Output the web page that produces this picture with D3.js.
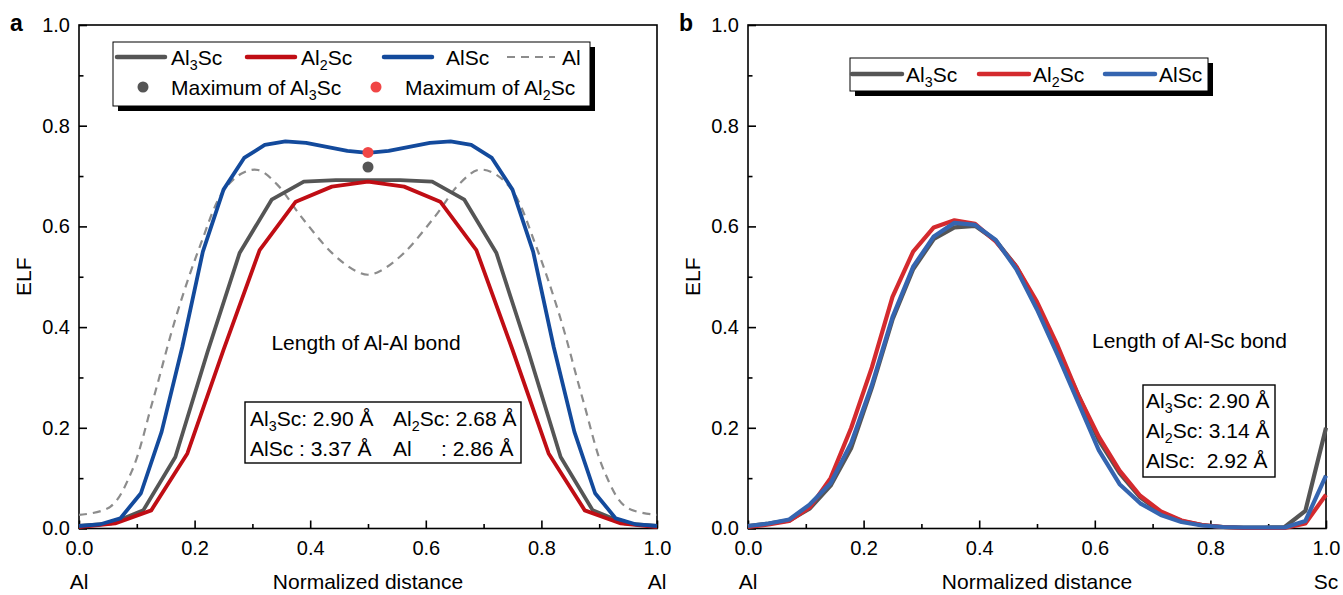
<!DOCTYPE html>
<html><head><meta charset="utf-8">
<script src="https://cdn.jsdelivr.net/npm/d3@7"></script>
<style>
html,body{margin:0;padding:0;background:#fff;}
text{font-family:"Liberation Sans",Arial,sans-serif;fill:#000;white-space:pre;}
</style></head>
<body>
<svg id="chart" width="1343" height="595"></svg>
<script>
// ---------- DATA ----------
const xTicks = [0.0, 0.2, 0.4, 0.6, 0.8, 1.0];
const yTicks = [0.0, 0.2, 0.4, 0.6, 0.8, 1.0];

// Panel a (Al-Al bond)
const a_Al3Sc_x = [0,0.0556,0.1111,0.1667,0.2222,0.2778,0.3333,0.3889,0.4444,0.5,0.5556,0.6111,0.6667,0.7222,0.7778,0.8333,0.8889,0.9444,1];
const a_Al3Sc_y = [0.005,0.01,0.036,0.142,0.35,0.547,0.653,0.689,0.692,0.692,0.692,0.689,0.653,0.547,0.35,0.142,0.036,0.01,0.005];
const a_Al2Sc_x = [0,0.0625,0.125,0.1875,0.25,0.3125,0.375,0.4375,0.5,0.5625,0.625,0.6875,0.75,0.8125,0.875,0.9375,1];
const a_Al2Sc_y = [0.003,0.01,0.036,0.149,0.355,0.553,0.649,0.679,0.689,0.679,0.649,0.553,0.355,0.149,0.036,0.01,0.003];
const a_AlSc_x = [0,0.0357,0.0714,0.1071,0.1429,0.1786,0.2143,0.25,0.2857,0.3214,0.3571,0.3929,0.4286,0.4643,0.5,0.5357,0.5714,0.6071,0.6429,0.6786,0.7143,0.75,0.7857,0.8214,0.8571,0.8929,0.9286,0.9643,1];
const a_AlSc_y = [0.005,0.008,0.02,0.07,0.192,0.36,0.55,0.673,0.736,0.762,0.769,0.766,0.758,0.75,0.746,0.75,0.758,0.766,0.769,0.762,0.736,0.673,0.55,0.36,0.192,0.07,0.02,0.008,0.005];
const a_Al_x = [0,0.054,0.091,0.128,0.168,0.209,0.249,0.283,0.31,0.343,0.384,0.438,0.478,0.5,0.522,0.562,0.616,0.657,0.69,0.717,0.751,0.791,0.832,0.872,0.909,0.946,1];
const a_Al_y = [0.027,0.043,0.113,0.255,0.421,0.56,0.669,0.706,0.712,0.683,0.62,0.547,0.512,0.504,0.512,0.547,0.62,0.683,0.712,0.706,0.669,0.56,0.421,0.255,0.113,0.043,0.027];
const a_maxAl3Sc = [0.5, 0.718];
const a_maxAl2Sc = [0.5, 0.747];

// Panel b (Al-Sc bond)
const b_x = [0,0.0357,0.0714,0.1071,0.1429,0.1786,0.2143,0.25,0.2857,0.3214,0.3571,0.3929,0.4286,0.4643,0.5,0.5357,0.5714,0.6071,0.6429,0.6786,0.7143,0.75,0.7857,0.8214,0.8571,0.8929,0.9286,0.9643,1];
const b_Al3Sc_y = [0.005,0.01,0.016,0.04,0.085,0.16,0.28,0.415,0.515,0.575,0.598,0.601,0.572,0.52,0.445,0.355,0.265,0.175,0.11,0.062,0.032,0.015,0.007,0.003,0.002,0.002,0.003,0.035,0.2];
const b_Al2Sc_y = [0.003,0.008,0.015,0.042,0.1,0.2,0.32,0.46,0.55,0.598,0.612,0.605,0.57,0.52,0.45,0.363,0.265,0.182,0.115,0.065,0.034,0.016,0.007,0.003,0.001,0.001,0.001,0.01,0.067];
const b_AlSc_y = [0.005,0.01,0.018,0.048,0.09,0.17,0.285,0.42,0.52,0.58,0.607,0.603,0.573,0.515,0.435,0.345,0.25,0.155,0.088,0.05,0.027,0.013,0.006,0.003,0.002,0.002,0.002,0.015,0.105];

// ---------- DRAWING ----------
const svg = d3.select("#chart");
const FONT = 21, TFONT = 20;
const yTop = 25, yBot = 528.5;

function richText(g, x, y, parts, size) {
  const t = g.append("text").attr("x", x).attr("y", y).attr("font-size", size);
  let shifted = false;
  parts.forEach(p => {
    const [s, sub] = typeof p === "string" ? [p, false] : p;
    const ts = t.append("tspan").text(s);
    if (sub && !shifted) { ts.attr("dy", 5).attr("font-size", size * 0.68); shifted = true; }
    else if (!sub && shifted) { ts.attr("dy", -5); shifted = false; }
  });
  return t;
}

function panel(opt) {
  const g = svg.append("g");
  const x = d3.scaleLinear().domain([0, 1]).range([opt.x0, opt.x1]);
  const y = d3.scaleLinear().domain([0, 1]).range([yBot, yTop]);

  g.append("rect").attr("x", opt.x0).attr("y", yTop).attr("width", opt.x1 - opt.x0).attr("height", yBot - yTop)
    .attr("fill", "none").attr("stroke", "#000").attr("stroke-width", 1.6);

  const xAx = g.append("g").attr("transform", `translate(0,${yBot})`)
    .call(d3.axisBottom(x).tickValues(xTicks).tickSize(-8).tickPadding(12).tickFormat(d3.format(".1f")));
  const xMin = g.append("g").attr("transform", `translate(0,${yBot})`)
    .call(d3.axisBottom(x).tickValues([0.1,0.3,0.5,0.7,0.9]).tickSize(-4.5).tickFormat(""));
  const yAx = g.append("g").attr("transform", `translate(${opt.x0},0)`)
    .call(d3.axisLeft(y).tickValues(yTicks).tickSize(-8).tickPadding(9).tickFormat(d3.format(".1f")));
  const yMin = g.append("g").attr("transform", `translate(${opt.x0},0)`)
    .call(d3.axisLeft(y).tickValues([0.1,0.3,0.5,0.7,0.9]).tickSize(-4.5).tickFormat(""));
  [xAx, xMin, yAx, yMin].forEach(a => {
    a.select(".domain").remove();
    a.selectAll("line").attr("stroke", "#000").attr("stroke-width", 1.6);
    a.selectAll("text").attr("font-size", TFONT).attr("font-family", '"Liberation Sans",Arial,sans-serif').attr("fill", "#000");
  });

  g.append("text").attr("x", opt.x0 - 69).attr("y", 31).attr("font-size", 23).attr("font-weight", "bold").text(opt.letter);
  g.append("text").attr("transform", `translate(${opt.x0 - 48},${(yTop + yBot) / 2}) rotate(-90)`)
    .attr("text-anchor", "middle").attr("font-size", FONT).text("ELF");
  g.append("text").attr("x", (opt.x0 + opt.x1) / 2).attr("y", 589).attr("text-anchor", "middle").attr("font-size", FONT).text("Normalized distance");
  g.append("text").attr("x", x(0)).attr("y", 589).attr("text-anchor", "middle").attr("font-size", FONT).text("Al");
  g.append("text").attr("x", x(1)).attr("y", 589).attr("text-anchor", "middle").attr("font-size", FONT).text(opt.rightEnd);

  opt.series.forEach(s => {
    const line = d3.line().x(d => x(d[0])).y(d => y(d[1])).curve(s.smooth ? d3.curveCatmullRom : d3.curveLinear);
    g.append("path").datum(s.xs.map((v, i) => [v, s.ys[i]]))
      .attr("d", line).attr("fill", "none").attr("stroke", s.color).attr("stroke-width", s.w)
      .attr("stroke-dasharray", s.dash || null).attr("stroke-linejoin", "round");
  });
  (opt.dots || []).forEach(d => {
    g.append("circle").attr("cx", x(d.p[0])).attr("cy", y(d.p[1])).attr("r", 5.5).attr("fill", d.color);
  });
  return { g, x, y };
}

const A = panel({
  x0: 79, x1: 657, letter: "a", rightEnd: "Al",
  series: [
    { xs: a_Al_x, ys: a_Al_y, color: "#8c8c8c", w: 2.2, dash: "8,6", smooth: true },
    { xs: a_Al3Sc_x, ys: a_Al3Sc_y, color: "#555555", w: 3.8 },
    { xs: a_Al2Sc_x, ys: a_Al2Sc_y, color: "#c00d14", w: 3.8 },
    { xs: a_AlSc_x, ys: a_AlSc_y, color: "#134a9c", w: 3.8 }
  ],
  dots: [{ p: a_maxAl3Sc, color: "#555555" }, { p: a_maxAl2Sc, color: "#f04646" }]
});

const B = panel({
  x0: 748, x1: 1326, letter: "b", rightEnd: "Sc",
  series: [
    { xs: b_x, ys: b_Al3Sc_y, color: "#555555", w: 4.2 },
    { xs: b_x, ys: b_Al2Sc_y, color: "#d42a2e", w: 4.2 },
    { xs: b_x, ys: b_AlSc_y, color: "#3565b0", w: 4.2 }
  ]
});

function shadowBox(g, x, y, w, h) {
  g.append("rect").attr("x", x + 5).attr("y", y + 5).attr("width", w).attr("height", h).attr("fill", "#000");
  g.append("rect").attr("x", x).attr("y", y).attr("width", w).attr("height", h).attr("fill", "#fff").attr("stroke", "#000").attr("stroke-width", 1);
}
function plainBox(g, x, y, w, h) {
  g.append("rect").attr("x", x).attr("y", y).attr("width", w).attr("height", h).attr("fill", "#fff").attr("stroke", "#000").attr("stroke-width", 1.4);
}
function legLine(g, x1, x2, y, color, w, dash) {
  g.append("line").attr("x1", x1).attr("x2", x2).attr("y1", y).attr("y2", y)
    .attr("stroke", color).attr("stroke-width", w).attr("stroke-linecap", dash ? "butt" : "round").attr("stroke-dasharray", dash || null);
}

{
  const g = A.g;
  shadowBox(g, 113, 42, 477, 64);
  const r1 = 57, r2 = 87;
  legLine(g, 117, 165, r1, "#555555", 4.5);
  richText(g, 171, r1 + 7.5, ["Al", ["3", 1], "Sc"], FONT);
  legLine(g, 247, 295, r1, "#c00d14", 4.5);
  richText(g, 301, r1 + 7.5, ["Al", ["2", 1], "Sc"], FONT);
  legLine(g, 384, 432, r1, "#134a9c", 4.5);
  richText(g, 446, r1 + 7.5, ["AlSc"], FONT);
  legLine(g, 507, 555, r1, "#8c8c8c", 2.2, "8,6");
  richText(g, 562, r1 + 7.5, ["Al"], FONT);
  g.append("circle").attr("cx", 143).attr("cy", r2).attr("r", 5.5).attr("fill", "#555555");
  richText(g, 171, r2 + 7.5, ["Maximum of Al", ["3", 1], "Sc"], FONT);
  g.append("circle").attr("cx", 376).attr("cy", r2).attr("r", 5.5).attr("fill", "#f04646");
  richText(g, 405, r2 + 7.5, ["Maximum of Al", ["2", 1], "Sc"], FONT);

  g.append("text").attr("x", 366).attr("y", 350).attr("text-anchor", "middle").attr("font-size", FONT).text("Length of Al-Al bond");
  plainBox(g, 245, 402, 276, 61);
  richText(g, 250, 426, ["Al", ["3", 1], "Sc: 2.90 Å"], FONT);
  richText(g, 393, 426, ["Al", ["2", 1], "Sc: 2.68 Å"], FONT);
  richText(g, 250, 456, ["AlSc : 3.37 Å"], FONT);
  richText(g, 393, 456, ["Al"], FONT);
  richText(g, 441, 456, [": 2.86 Å"], FONT);
}

{
  const g = B.g;
  shadowBox(g, 850, 58, 358, 33);
  const r = 74;
  legLine(g, 852, 902, r, "#555555", 4.5);
  richText(g, 906, r + 7.5, ["Al", ["3", 1], "Sc"], FONT);
  legLine(g, 979, 1029, r, "#d42a2e", 4.5);
  richText(g, 1033, r + 7.5, ["Al", ["2", 1], "Sc"], FONT);
  legLine(g, 1105, 1155, r, "#3565b0", 4.5);
  richText(g, 1159, r + 7.5, ["AlSc"], FONT);

  g.append("text").attr("x", 1092).attr("y", 348).attr("font-size", FONT).text("Length of Al-Sc bond");
  plainBox(g, 1143, 385, 132, 92);
  richText(g, 1146, 408, ["Al", ["3", 1], "Sc: 2.90 Å"], FONT);
  richText(g, 1146, 438, ["Al", ["2", 1], "Sc: 3.14 Å"], FONT);
  richText(g, 1146, 468, ["AlSc:  2.92 Å"], FONT);
}
</script>
</body></html>
